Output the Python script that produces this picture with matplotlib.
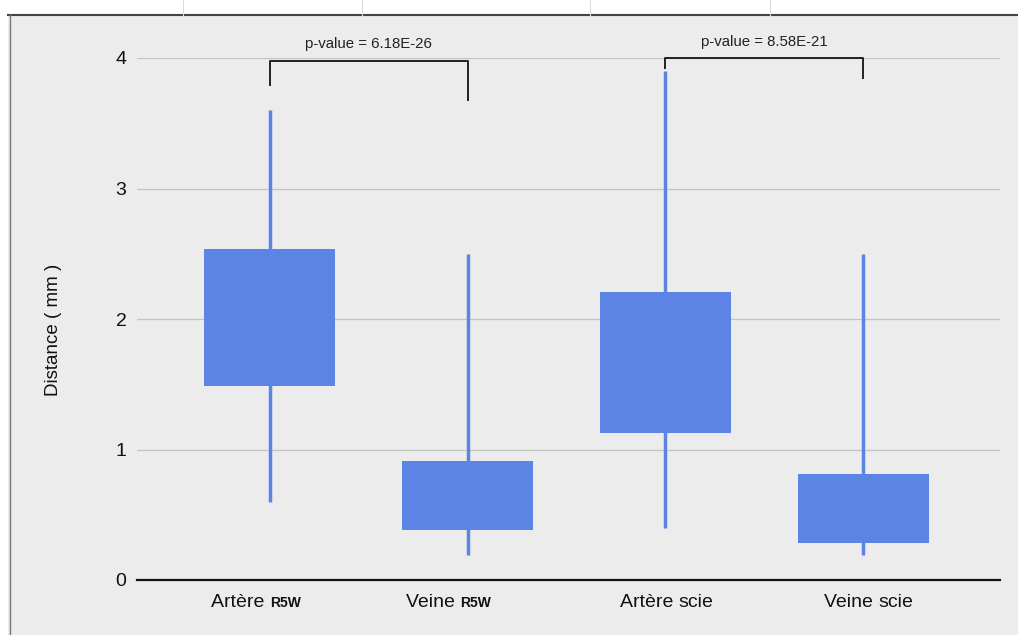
import matplotlib
matplotlib.use("Agg")
import matplotlib.pyplot as plt
from matplotlib.patches import Rectangle
from matplotlib.lines import Line2D
from matplotlib.offsetbox import TextArea, HPacker, AnnotationBbox

plt.rcParams['font.family'] = ['Liberation Sans', 'DejaVu Sans']

# data
groups = ["Artère", "Veine", "Artère", "Veine"]
suffixes = ["R5W", "R5W", "scie", "scie"]
q1 = [1.49, 0.38, 1.13, 0.28]
q3 = [2.54, 0.91, 2.21, 0.81]
whisk_lo = [0.60, 0.19, 0.40, 0.19]
whisk_hi = [3.60, 2.50, 3.90, 2.50]

# significance brackets
pairs = [(0, 1), (2, 3)]
bar_y = [3.98, 4.0]
drop_left = [3.79, 3.92]
drop_right = [3.68, 3.85]
p_labels = ["p-value = 6.18E-26", "p-value = 8.58E-21"]

yticks = [0, 1, 2, 3, 4]

blue = "#5b84e4"

fig = plt.figure(figsize=(10.18, 6.35), dpi=100)

# spreadsheet-like background panel
top = 1 - 15 / 635
fig.patches.append(Rectangle((8 / 1018, 0), 1 - 8 / 1018, top,
                             transform=fig.transFigure, facecolor="#ececec",
                             edgecolor="none", zorder=-10))
fig.lines.append(Line2D([8 / 1018, 1], [top, top], transform=fig.transFigure,
                        color="#444444", lw=1.5))
fig.lines.append(Line2D([10 / 1018] * 2, [0, top], transform=fig.transFigure,
                        color="#777777", lw=1.0))
for xg in [183, 362, 590, 770]:
    fig.lines.append(Line2D([xg / 1018] * 2, [top, 1],
                            transform=fig.transFigure, color="#dddddd", lw=0.8))

ax = fig.add_axes([137 / 1018, 55 / 635, (1000 - 137) / 1018, (580 - 58) / 635])
ax.set_facecolor("none")

width = 0.66
for i in range(len(groups)):
    ax.plot([i, i], [whisk_lo[i], whisk_hi[i]], color=blue, lw=2.5,
            solid_capstyle="butt", zorder=2)
    ax.add_patch(Rectangle((i - width / 2, q1[i]), width, q3[i] - q1[i],
                           facecolor=blue, edgecolor="none", zorder=3))

for k, (a, b) in enumerate(pairs):
    ax.plot([a, a, b, b], [drop_left[k], bar_y[k], bar_y[k], drop_right[k]],
            color="#222222", lw=1.4, clip_on=False, zorder=4)
    ax.text((a + b) / 2, bar_y[k] + 0.07, p_labels[k], ha="center", va="bottom",
            fontsize=10.8, color="#222222", clip_on=False)

ax.set_xlim(-0.67, 3.69)
ax.set_ylim(0, 4)
ax.set_yticks(yticks)
ax.set_yticklabels([str(t) for t in yticks], fontsize=14, color="#111111")
ax.tick_params(axis="y", length=0, pad=7.5)
ax.grid(axis="y", color="#c4c4c4", lw=0.9)
ax.set_axisbelow(True)
for s in ["top", "right", "left"]:
    ax.spines[s].set_visible(False)
ax.spines["bottom"].set_color("#111111")
ax.spines["bottom"].set_linewidth(1.6)
ax.set_xticks([])
ax.set_ylabel("Distance ( mm )", fontsize=13.5, color="#111111")
ax.yaxis.set_label_coords(-0.087, 0.48)

# category labels, suffix "R5W" set smaller and bold like in the original
label_shift = [-10, -14, 1, 4]
for i in range(len(groups)):
    small = suffixes[i] == "R5W"
    parts = [TextArea(groups[i] + " ", textprops=dict(fontsize=14, color="#111111")),
             TextArea(suffixes[i], textprops=dict(fontsize=10 if small else 14,
                                                  fontweight="bold" if small else "normal",
                                                  color="#111111"))]
    box = HPacker(children=parts, align="baseline", pad=0, sep=0)
    ab = AnnotationBbox(box, (i, 0), xybox=(label_shift[i], -16.5),
                        xycoords="data", boxcoords="offset points",
                        frameon=False, box_alignment=(0.5, 0.5))
    ax.add_artist(ab)

fig.savefig("out.png", dpi=100)
